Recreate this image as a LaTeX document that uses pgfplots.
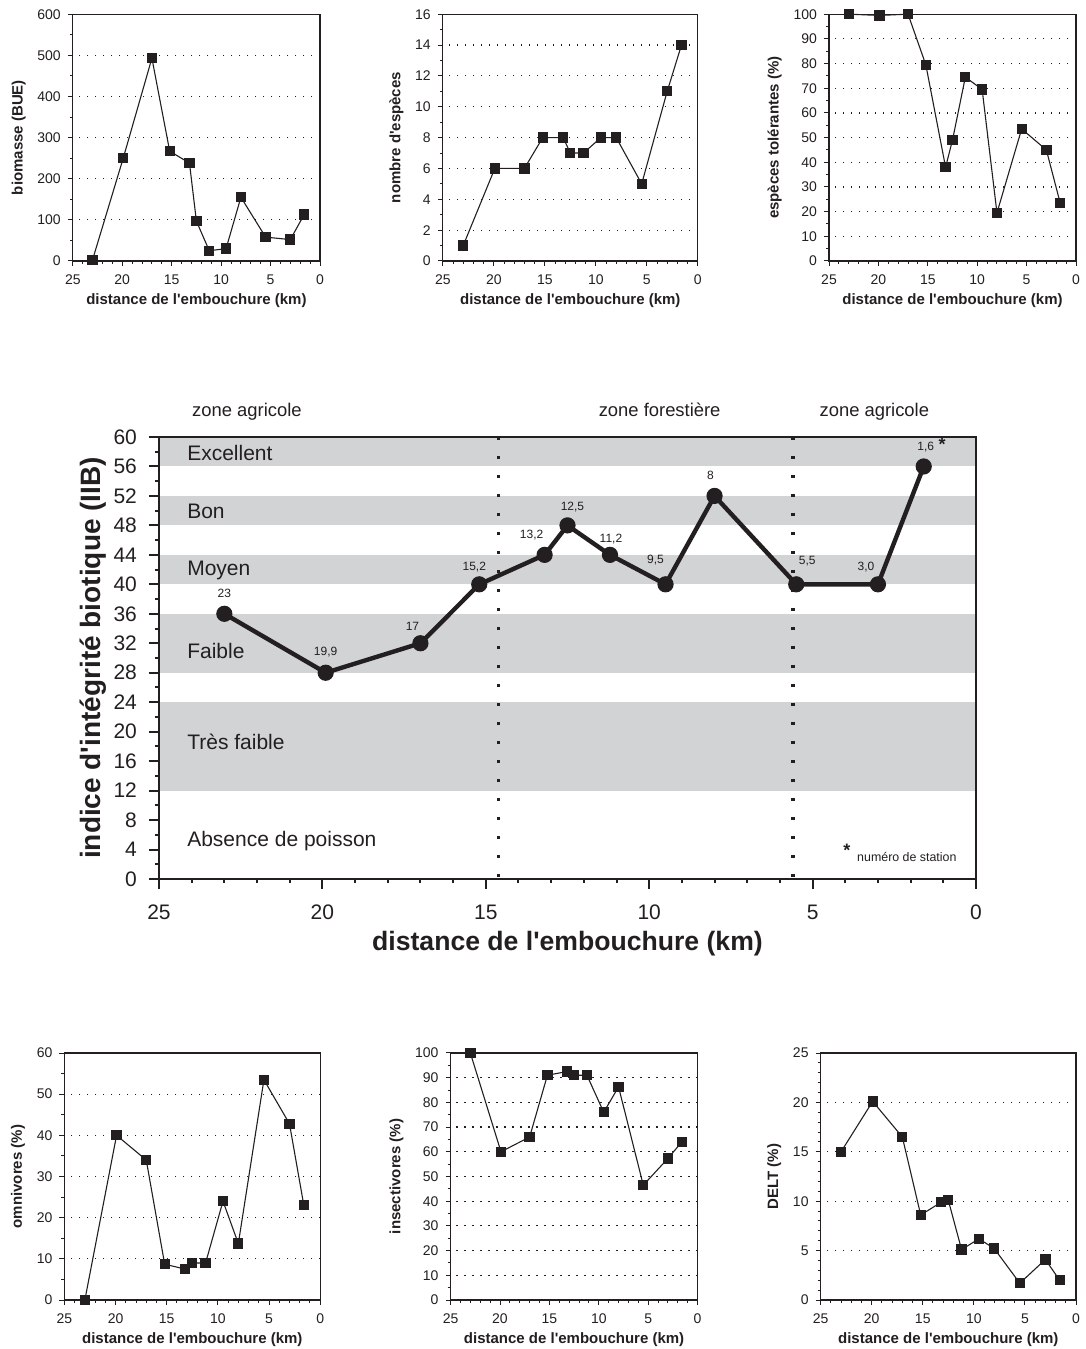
\documentclass[border=0pt]{standalone}
\usepackage{pgfplots}
\usepackage{pgfplotstable}
\pgfplotsset{compat=1.18}
\usepackage{fontspec}
\setmainfont{Liberation Sans}[Ligatures=TeXOff]
\definecolor{band}{RGB}{209,211,212}
\definecolor{ink}{RGB}{35,31,32}

\pgfplotstableread{
x biom nsp tol omni ins delt iib
23 3 1 100 0 100 15 36
19.9 250 6 99.5 40 60 20.1 28
17 493 6 100 34 66 16.5 32
15.2 267 8 79.5 8.7 91 8.6 40
13.2 238 8 38 7.5 92.5 9.9 44
12.5 97 7 49 9 91 10.1 48
11.2 25 7 74.5 9 91 5.1 44
9.5 30 8 69.5 24 76 6.2 40
8 155 8 19.5 13.7 86.3 5.2 52
5.5 58 5 53.5 53.5 46.5 1.7 40
3.0 52 11 45 42.8 57.3 4.1 40
1.6 113 14 23.5 23 64 2 56
}\data

\pgfplotsset{
 small/.style={
  scale only axis, anchor=south west, clip=false,
  xmin=0, xmax=25, x dir=reverse,
  xtick={0,5,...,25}, minor x tick num=4,
  ymin=0,
  tick align=outside, xtick pos=left, ytick pos=left,
  major tick length=2.5pt, minor tick length=1.5pt,
  every tick/.style={ink, line width=0.5pt},
  axis line style={ink, line width=0.6pt},
  ymajorgrids,
  grid style={ink, line width=0.6pt, dash pattern=on 0.6pt off 3.4pt},
  tick label style={font=\fontsize{7}{8}\selectfont, text=ink},
  /pgf/number format/assume math mode=true,
  label style={font=\bfseries\fontsize{7.5}{9}\selectfont, text=ink},
  xlabel={distance de l'embouchure (km)},
  xticklabel style={yshift=-1pt},
  xlabel style={yshift=2.5pt},
  ylabel style={yshift=-1pt},
 },
 ser/.style={ink, line width=0.55pt, mark=square*, mark size=2.3pt, mark options={solid, fill=ink}},
}

\begin{document}
\begin{tikzpicture}[x=1pt,y=1pt]
\useasboundingbox (0,0) rectangle (543,674.5);

% ---------- top row ----------
\begin{axis}[small, at={(36.4pt,544pt)}, width=123.6pt, height=123.4pt,
  ymax=600, ytick={0,100,...,600}, minor y tick num=1, ylabel={biomasse (BUE)}]
\addplot[ser] table[x=x,y=biom]{\data};
\end{axis}

\begin{axis}[small, at={(221.4pt,544pt)}, width=127.5pt, height=123.4pt,
  ymax=16, ytick={0,2,...,16}, minor y tick num=1, ylabel={nombre d'espèces}]
\addplot[ser] table[x=x,y=nsp]{\data};
\end{axis}

\begin{axis}[small, at={(414.5pt,544pt)}, width=123.5pt, height=123.4pt,
  ymax=100, ytick={0,10,...,100}, minor y tick num=1, ylabel={espèces tolérantes (\%)}]
\addplot[ser] table[x=x,y=tol]{\data};
\end{axis}

% ---------- middle ----------
\begin{axis}[scale only axis, anchor=south west, clip=false,
  at={(79.5pt,235pt)}, width=408.5pt, height=221pt,
  xmin=0, xmax=25, x dir=reverse, ymin=0, ymax=60,
  xtick={0,5,...,25}, minor x tick num=4,
  ytick={0,4,...,60}, minor y tick num=1,
  tick align=outside, xtick pos=left, ytick pos=left,
  major tick length=5pt, minor tick length=2pt,
  every tick/.style={ink, line width=1pt},
  axis line style={ink, line width=0.9pt},
  axis on top,
  tick label style={font=\fontsize{10.5}{12}\selectfont, text=ink},
  xticklabel style={yshift=-4.5pt},
  yticklabel style={xshift=-2.5pt},
  /pgf/number format/assume math mode=true,
  xlabel={distance de l'embouchure (km)},
  ylabel={indice d'intégrité biotique (IIB)},
  xlabel style={font=\bfseries\fontsize{13.3}{15}\selectfont, text=ink, yshift=1pt},
  ylabel style={font=\bfseries\fontsize{14}{16}\selectfont, text=ink, yshift=-3.5pt},
]
\addplot[fill=band, draw=none] coordinates {(25,56) (0,56) (0,60) (25,60)} -- cycle;
\addplot[fill=band, draw=none] coordinates {(25,48) (0,48) (0,52) (25,52)} -- cycle;
\addplot[fill=band, draw=none] coordinates {(25,40) (0,40) (0,44) (25,44)} -- cycle;
\addplot[fill=band, draw=none] coordinates {(25,28) (0,28) (0,36) (25,36)} -- cycle;
\addplot[fill=band, draw=none] coordinates {(25,12) (0,12) (0,24) (25,24)} -- cycle;
\addplot[ink, line width=1.6pt, dash pattern=on 1.5pt off 8pt] coordinates {(14.6,60) (14.6,0)};
\addplot[ink, line width=1.6pt, dash pattern=on 1.5pt off 8pt] coordinates {(5.6,60) (5.6,0)};
\addplot[ink, line width=2.2pt, mark=*, mark size=3.8pt, mark options={solid, fill=ink, line width=0.5pt}] table[x=x,y=iib]{\data};

\begin{scope}[every node/.style={font=\fontsize{10.5}{12}\selectfont, text=ink, anchor=west}]
\node at (axis cs:24.35,57.8) {Excellent};
\node at (axis cs:24.35,49.9) {Bon};
\node at (axis cs:24.35,41.9) {Moyen};
\node at (axis cs:24.35,30.9) {Faible};
\node at (axis cs:24.35,18.6) {Très faible};
\node at (axis cs:24.35,5.2) {Absence de poisson};
\end{scope}

\begin{scope}[every node/.style={font=\fontsize{9.2}{11}\selectfont, text=ink, anchor=base}]
\node at (axis cs:22.31,60) [yshift=10pt] {zone agricole};
\node at (axis cs:9.68,60) [yshift=10pt] {zone forestière};
\node at (axis cs:3.11,60) [yshift=10pt] {zone agricole};
\end{scope}

\begin{scope}[every node/.style={font=\fontsize{6}{7}\selectfont, text=ink}]
\node at (axis cs:23,36) [yshift=10pt] {23};
\node at (axis cs:19.9,28) [yshift=10.5pt] {19,9};
\node at (axis cs:17,32) [xshift=-4pt, yshift=8.5pt] {17};
\node at (axis cs:15.2,40) [xshift=-2.5pt, yshift=8.5pt] {15,2};
\node at (axis cs:13.2,44) [xshift=-6.5pt, yshift=10pt] {13,2};
\node at (axis cs:12.5,48) [xshift=2.5pt, yshift=9pt] {12,5};
\node at (axis cs:11.2,44) [xshift=0.5pt, yshift=8pt] {11,2};
\node at (axis cs:9.5,40) [xshift=-5pt, yshift=12pt] {9,5};
\node at (axis cs:8,52) [xshift=-2pt, yshift=10.5pt] {8};
\node at (axis cs:5.5,40) [xshift=5.5pt, yshift=11.5pt] {5,5};
\node at (axis cs:3.0,40) [xshift=-6pt, yshift=8.5pt] {3,0};
\node at (axis cs:1.6,56) [xshift=1pt, yshift=9.5pt] {1,6};
\end{scope}
\node[font=\bfseries\fontsize{9}{10}\selectfont, text=ink] at (axis cs:1.6,56) [xshift=9.25pt, yshift=11pt] {*};
\node[font=\bfseries\fontsize{9}{10}\selectfont, text=ink] at (axis cs:3.95,3.9) {*};
\node[font=\fontsize{6.2}{7}\selectfont, text=ink, anchor=west] at (axis cs:3.85,3.0) {numéro de station};
\end{axis}

% ---------- bottom row ----------
\begin{axis}[small, at={(32.2pt,24.5pt)}, width=127.9pt, height=123.5pt,
  ymax=60, ytick={0,10,...,60}, minor y tick num=1, ylabel={omnivores (\%)}]
\addplot[ser] table[x=x,y=omni]{\data};
\end{axis}

\begin{axis}[small, at={(225.3pt,24.5pt)}, width=123.5pt, height=123.5pt,
  ymax=100, ytick={0,10,...,100}, minor y tick num=1, ylabel={insectivores (\%)}]
\addplot[ser] table[x=x,y=ins]{\data};
\end{axis}

\begin{axis}[small, at={(410.3pt,24.5pt)}, width=127.7pt, height=123.5pt,
  ymax=25, ytick={0,5,...,25}, minor y tick num=4, ylabel={DELT (\%)}]
\addplot[ser] table[x=x,y=delt]{\data};
\end{axis}
\end{tikzpicture}
\end{document}
